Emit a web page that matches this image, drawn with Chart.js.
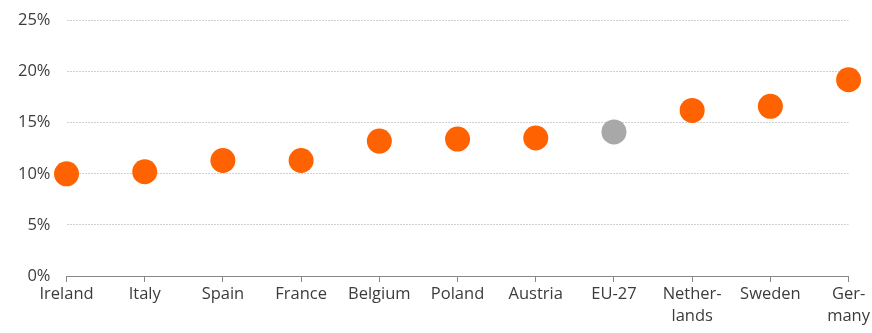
<!DOCTYPE html>
<html>
<head>
<meta charset="utf-8">
<script src="https://cdn.jsdelivr.net/npm/chart.js@4"></script>
<style>
  html, body { margin: 0; padding: 0; background: #fff; }
  #wrap { width: 872px; height: 325px; padding-top: 8px; }
</style>
</head>
<body>
<div id="wrap"><canvas id="myChart"></canvas></div>
<script>
const countries = ['Ireland', 'Italy', 'Spain', 'France', 'Belgium', 'Poland', 'Austria', 'EU-27', ['Nether-', 'lands'], 'Sweden', ['Ger-', 'many']];
const shares = [10.0, 10.2, 11.3, 11.3, 13.2, 13.4, 13.5, 14.1, 16.2, 16.6, 19.2];
const yTicks = [0, 5, 10, 15, 20, 25];

const ORANGE = '#ff6200';
const GREY = '#a8a8a8';
const colors = countries.map(c => c === 'EU-27' ? GREY : ORANGE);

Chart.defaults.font.family = '"Open Sans", sans-serif';
Chart.defaults.font.size = 16.5;
Chart.defaults.color = '#3c3c3c';

const config = {
  type: 'line',
  data: {
    labels: countries,
    datasets: [{
      data: shares,
      showLine: false,
      pointRadius: 12.5,
      pointHoverRadius: 12.5,
      pointBackgroundColor: colors,
      pointBorderWidth: 0,
    }],
  },
  options: {
    animation: false,
    responsive: true,
    maintainAspectRatio: false,
    layout: { padding: { top: 0, right: 22, left: 2, bottom: 0 } },
    plugins: { legend: { display: false }, tooltip: { enabled: false } },
    scales: {
      x: {
        offset: false,
        grid: { drawOnChartArea: false, drawTicks: true, tickLength: 6, color: '#888' },
        border: { display: true, color: '#888', width: 1 },
        ticks: { maxRotation: 0, autoSkip: false, padding: 2, font: { lineHeight: 1.3 } },
        afterFit: axis => { axis.height = 57; },
      },
      y: {
        min: 0,
        max: 25,
        afterBuildTicks: axis => { axis.ticks = yTicks.map(v => ({ value: v })); },
        afterFit: axis => { axis.paddingTop = 0; },
        grid: { color: '#d0d0d0', drawTicks: false },
        border: { display: false, dash: [2, 1] },
        ticks: { padding: 16, callback: v => v + '%', font: { lineHeight: 1.0 } },
      },
    },
  },
};

const ctx = document.getElementById('myChart').getContext('2d');
const myChart = new Chart(ctx, config);
</script>
</body>
</html>
